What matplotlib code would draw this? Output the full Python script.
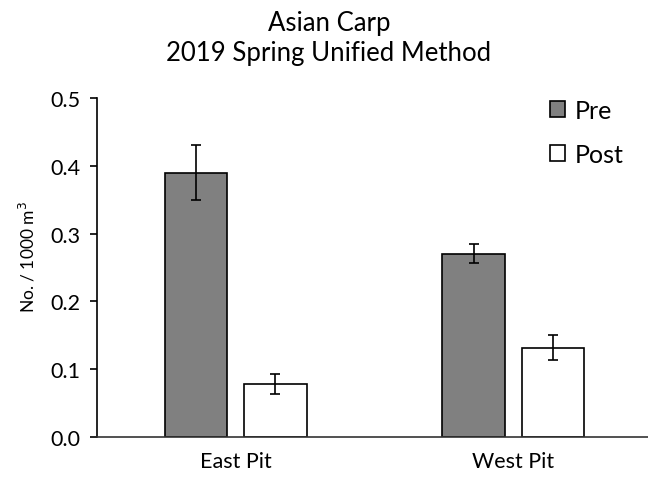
import numpy as np
import matplotlib
matplotlib.use("Agg")
import matplotlib.pyplot as plt
from matplotlib.patches import Patch

plt.rcParams['font.family'] = ['Lato', 'DejaVu Sans']

# data
sites = ["East Pit", "West Pit"]
pre = [0.39, 0.27]
pre_err = [0.04, 0.014]
post = [0.078, 0.132]
post_err = [0.015, 0.019]
yticks = [0.0, 0.1, 0.2, 0.3, 0.4, 0.5]

fig = plt.figure(figsize=(6.48, 4.81), dpi=100)
ax = fig.add_axes([97 / 648, 1 - 438 / 481, 555 / 648, 339 / 481])

x = np.arange(len(sites))
w = 0.225
off = 0.143
err_kw = dict(ecolor='black', elinewidth=1.2, capsize=3.5, capthick=1.2)
ax.bar(x - off, pre, w, yerr=pre_err, color='#808080', edgecolor='black',
       linewidth=1.2, error_kw=err_kw, label='Pre')
ax.bar(x + off, post, w, yerr=post_err, color='white', edgecolor='black',
       linewidth=1.2, error_kw=err_kw, label='Post')

ax.set_xlim(-0.5, 1.5)
ax.set_ylim(0, 0.5)
ax.set_yticks(yticks)
ax.set_yticklabels([f"{t:.1f}" for t in yticks], fontsize=15.5)
ax.set_xticks(x)
ax.set_xticklabels(sites, fontsize=15.5)
ax.tick_params(axis='x', length=0, pad=10)
ax.tick_params(axis='y', length=5, width=1.2, pad=7)
for s in ['top', 'right']:
    ax.spines[s].set_visible(False)
ax.spines['left'].set_linewidth(1.2)
ax.spines['bottom'].set_linewidth(1.2)
ax.spines['bottom'].set_color('#333333')

ax.set_ylabel("No. / 1000 m$^3$", fontsize=12.5)
ax.yaxis.set_label_coords(-0.108, 0.535)

fig.text(329 / 648, 1 - 23 / 481, "Asian Carp", ha='center', va='center', fontsize=18.5)
fig.text(329 / 648, 1 - 54 / 481, "2019 Spring Unified Method", ha='center', va='center', fontsize=18.5)

handles = [Patch(facecolor='#808080', edgecolor='black', linewidth=1.2, label='Pre'),
           Patch(facecolor='white', edgecolor='black', linewidth=1.2, label='Post')]
fig.legend(handles=handles, loc='upper left', bbox_to_anchor=(550 / 648, 1 - 100 / 481),
           frameon=False, fontsize=18, handlelength=0.6, handleheight=0.6,
           handletextpad=0.4, labelspacing=0.83, borderpad=0, borderaxespad=0)

fig.savefig("out.png", dpi=100)
